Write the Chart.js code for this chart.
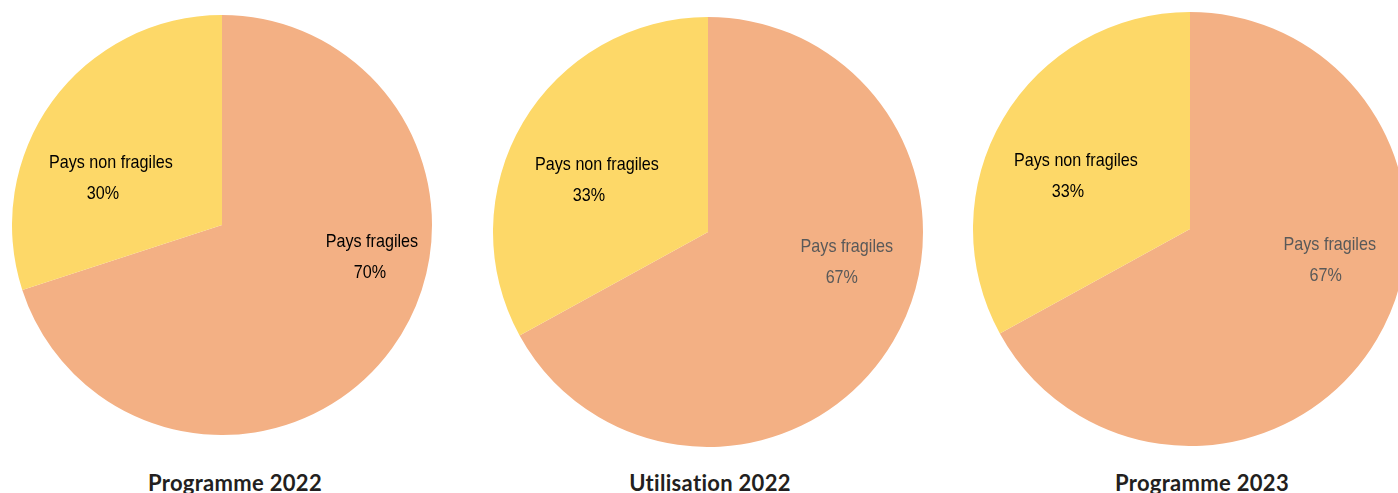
<!DOCTYPE html>
<html lang="fr">
<head>
  <meta charset="UTF-8" />
  <title>Pays fragiles / non fragiles</title>
  <script src="https://cdn.jsdelivr.net/npm/chart.js"></script>
  <style>
    html, body {
      margin: 0;
      padding: 0;
      background: #ffffff;
      width: 1398px;
      height: 493px;
      overflow: hidden;
      position: relative;
    }

    .pie {
      position: absolute;
    }

    .caption {
      position: absolute;
      top: 469px;
      width: 300px;
      text-align: center;
      font-family: Lato, "Noto Sans", sans-serif;
      font-weight: bold;
      font-size: 22px;
      color: #231f20;
      letter-spacing: 0.3px;
    }
  </style>
</head>
<body>

  <div class="pie" style="left:12px; top:15px;"><canvas id="pie2022" width="420" height="420"></canvas></div>
  <div class="pie" style="left:493px; top:17px;"><canvas id="use2022" width="430" height="430"></canvas></div>
  <div class="pie" style="left:973px; top:12px;"><canvas id="pie2023" width="434" height="434"></canvas></div>

  <div class="caption" style="left:85px;">Programme 2022</div>
  <div class="caption" style="left:560px;">Utilisation 2022</div>
  <div class="caption" style="left:1052px;">Programme 2023</div>

  <script>
    const categories = ['Pays fragiles', 'Pays non fragiles'];
    const programme2022 = [70, 30];
    const utilisation2022 = [67, 33];
    const programme2023 = [67, 33];

    const sliceColors = ['#f3b084', '#fdd868'];

    // two-line label (name, percent) at a polar spot:
    // [angle in degrees from +x clockwise, fraction of radius, percent x shift]
    // text is squeezed horizontally to get a narrow face
    const sliceLabels = {
      id: 'sliceLabels',
      afterDatasetsDraw(chart, args, opts) {
        const { ctx } = chart;
        const meta = chart.getDatasetMeta(0);
        const values = chart.data.datasets[0].data;
        const squeeze = 0.85;
        ctx.save();
        ctx.font = '19px "Liberation Sans", Arial, sans-serif';
        ctx.textAlign = 'center';
        ctx.textBaseline = 'middle';
        meta.data.forEach((arc, i) => {
          const [deg, frac, shift] = opts.places[i];
          const a = deg * Math.PI / 180;
          const x = arc.x + Math.cos(a) * arc.outerRadius * frac;
          const y = arc.y + Math.sin(a) * arc.outerRadius * frac;
          ctx.save();
          ctx.translate(x, y);
          ctx.scale(squeeze, 1);
          ctx.fillStyle = opts.colors[i];
          ctx.fillText(chart.data.labels[i], 0, -15);
          ctx.fillText(values[i] + '%', shift / squeeze, 16);
          ctx.restore();
        });
        ctx.restore();
      }
    };

    function makePie(id, values, places, colors) {
      return new Chart(document.getElementById(id), {
        type: 'pie',
        data: {
          labels: categories,
          datasets: [{
            data: values,
            backgroundColor: sliceColors,
            borderWidth: 0
          }]
        },
        options: {
          responsive: false,
          animation: false,
          layout: { padding: 0 },
          plugins: {
            legend: { display: false },
            tooltip: { enabled: false },
            sliceLabels: { places: places, colors: colors }
          }
        },
        plugins: [sliceLabels]
      });
    }

    makePie('pie2022', programme2022, [[12, 0.73, -2], [203, 0.575, -8]], ['#000000', '#000000']);
    makePie('use2022', utilisation2022, [[12, 0.66, -5], [205, 0.57, -8]], ['#595959', '#000000']);
    makePie('pie2023', programme2023, [[12.6, 0.66, -4], [205, 0.58, -8]], ['#595959', '#000000']);
  </script>
</body>
</html>
